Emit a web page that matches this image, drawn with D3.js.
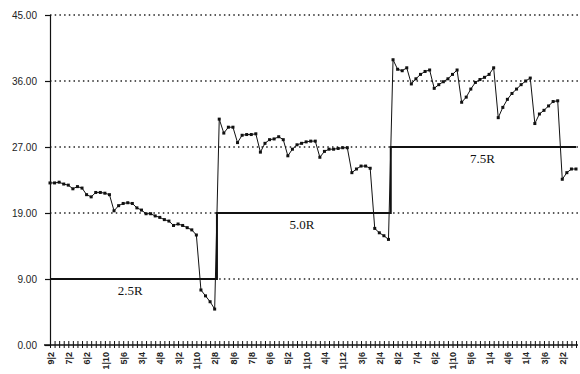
<!DOCTYPE html>
<html>
<head>
<meta charset="utf-8">
<script src="https://cdn.jsdelivr.net/npm/d3@7"></script>
<style>
  html, body { margin: 0; padding: 0; background: #fff; }
  svg { display: block; }
</style>
</head>
<body>
<svg id="chart" width="580" height="374"></svg>
<script>
// Measured response, one reading per sample
const seriesValues = [
  22.1, 22.1, 22.2, 21.95, 21.8, 21.3, 21.6, 21.4, 20.5, 20.2,
  20.8, 20.8, 20.7, 20.5, 18.3, 19.0, 19.3, 19.4, 19.3, 18.7,
  18.4, 17.9, 17.9, 17.6, 17.4, 17.1, 16.9, 16.3, 16.5, 16.3,
  16.0, 15.7, 15.0, 7.5, 6.7, 5.9, 4.9,
  30.8, 28.9, 29.7, 29.7, 27.6, 28.6, 28.7, 28.7, 28.8, 26.3,
  27.5, 28.0, 28.1, 28.4, 28.0, 25.8, 26.7, 27.3, 27.5, 27.7,
  27.8, 27.8, 25.6, 26.4, 26.7, 26.7, 26.8, 26.9, 26.9, 23.5,
  24.0, 24.4, 24.4, 24.1, 15.9, 15.3, 14.9, 14.4,
  38.9, 37.6, 37.4, 37.8, 35.6, 36.3, 36.9, 37.3, 37.5, 35.0,
  35.5, 35.9, 36.3, 36.9, 37.5, 33.1, 33.8, 34.9, 35.8, 36.2,
  36.5, 36.9, 37.8, 31.0, 32.4, 33.5, 34.3, 34.9, 35.5, 36.0,
  36.4, 30.2, 31.5, 32.0, 32.6, 33.2, 33.3, 22.6, 23.5, 24.0, 24.0
];

// Sample categories (one per reading); every fourth one carries a label
const categories = seriesValues.map((_, i) => i);
const tickLabels = [
  "9|2", "7|2", "6|2", "1|10", "5|6", "3|4", "4|8", "3|2", "1|10", "2|8",
  "8|6", "7|8", "6|6", "5|2", "1|10", "4|4", "1|12", "3|6", "2|4", "8|2",
  "7|4", "6|2", "1|10", "5|6", "1|4", "4|6", "1|4", "3|6", "2|2"
];

// Threshold levels and the sample index where each one begins
const stepLevels = [9, 18, 27];
const stepStarts = [0, 37, 75];
const stepNames = ["2.5R", "5.0R", "7.5R"];

// Y axis
const yTicks = [0, 9, 18, 27, 36, 45];
const yTickLabels = ["0.00", "9.00", "19.00", "27.00", "36.00", "45.00"];

const svg = d3.select("#chart");
const axisX = 50, plotRight = 578, plotTop = 15, plotBottom = 345;

const x = d3.scalePoint().domain(categories).range([50, 576]);
const y = d3.scaleLinear().domain([0, 45]).range([plotBottom, plotTop]);

// dotted grid
svg.append("g")
  .selectAll("line")
  .data(yTicks.filter(d => d > 0))
  .join("line")
  .attr("x1", axisX).attr("x2", plotRight)
  .attr("y1", d => y(d)).attr("y2", d => y(d))
  .attr("stroke", "#222")
  .attr("stroke-width", 1.3)
  .attr("stroke-dasharray", "1.5,3.2");

// y axis
const yAxis = d3.axisLeft(y)
  .tickValues(yTicks)
  .tickSize(5)
  .tickFormat((d, i) => yTickLabels[i]);
svg.append("g")
  .attr("transform", `translate(${axisX},0)`)
  .call(yAxis)
  .call(g => g.select(".domain").attr("stroke", "#111").attr("stroke-width", 1.2))
  .call(g => g.selectAll(".tick line").attr("stroke", "#111").attr("stroke-width", 1.2))
  .call(g => g.selectAll(".tick text")
    .attr("x", -13)
    .attr("fill", "#222")
    .style("font-family", "Liberation Sans, Arial, sans-serif")
    .style("font-size", "10px"));

// x axis: tick at every sample, label at every fourth
const xAxis = d3.axisBottom(x)
  .tickValues(categories)
  .tickSize(3)
  .tickFormat(d => d % 4 === 0 ? tickLabels[d / 4] : "");
const gx = svg.append("g")
  .attr("transform", `translate(0,${plotBottom})`)
  .call(xAxis);
gx.select(".domain").remove();
gx.append("line")
  .attr("x1", 44).attr("x2", plotRight)
  .attr("stroke", "#111").attr("stroke-width", 1.3);
gx.selectAll(".tick line")
  .attr("y1", -4).attr("y2", 3)
  .attr("stroke", "#111").attr("stroke-width", 1);
gx.selectAll(".tick text")
  .attr("transform", "rotate(-90)")
  .attr("x", -7).attr("y", 0).attr("dy", "0.35em")
  .attr("text-anchor", "end")
  .attr("fill", "#222")
  .style("font-family", "Liberation Sans, Arial, sans-serif")
  .style("font-size", "9px")
  .style("font-weight", "bold");

// threshold step line
const stepData = categories.map(i => {
  let k = 0;
  for (let s = 0; s < stepStarts.length; s++) if (i >= stepStarts[s]) k = s;
  return { i, v: stepLevels[k] };
});
const stepLine = d3.line()
  .x(d => x(d.i)).y(d => y(d.v))
  .curve(d3.curveStep);
svg.append("path")
  .datum(stepData)
  .attr("d", stepLine)
  .attr("fill", "none")
  .attr("stroke", "#111")
  .attr("stroke-width", 2);

// threshold names under each level
svg.append("g")
  .selectAll("text")
  .data(stepNames)
  .join("text")
  .attr("x", (d, k) => {
    const a = x(stepStarts[k]);
    const b = k + 1 < stepStarts.length ? x(stepStarts[k + 1] - 1) : x(categories[categories.length - 1]);
    return (a + b) / 2 - 2;
  })
  .attr("y", (d, k) => y(stepLevels[k]) + 16)
  .attr("text-anchor", "middle")
  .attr("fill", "#111")
  .style("font-family", "Liberation Serif, Times New Roman, serif")
  .style("font-size", "13px")
  .text(d => d);

// data series
const line = d3.line()
  .x((d, i) => x(categories[i]))
  .y(d => y(d));
svg.append("path")
  .datum(seriesValues)
  .attr("d", line)
  .attr("fill", "none")
  .attr("stroke", "#111")
  .attr("stroke-width", 1);

svg.append("g")
  .selectAll("rect")
  .data(seriesValues)
  .join("rect")
  .attr("x", (d, i) => x(categories[i]) - 1.5)
  .attr("y", d => y(d) - 1.5)
  .attr("width", 3)
  .attr("height", 3)
  .attr("fill", "#111");
</script>
</body>
</html>
